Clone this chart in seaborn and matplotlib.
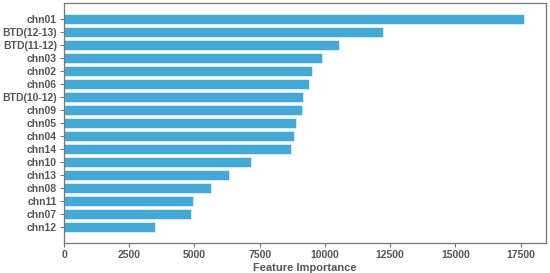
import matplotlib
matplotlib.use("Agg")
import matplotlib.pyplot as plt
import seaborn as sns
import pandas as pd

features = ["chn01", "BTD(12-13)", "BTD(11-12)", "chn03", "chn02", "chn06",
            "BTD(10-12)", "chn09", "chn05", "chn04", "chn14", "chn10",
            "chn13", "chn08", "chn11", "chn07", "chn12"]
importance = [17625, 12230, 10550, 9900, 9490, 9375,
              9170, 9135, 8890, 8800, 8685, 7150,
              6320, 5640, 4940, 4870, 3505]
x_ticks = [0, 2500, 5000, 7500, 10000, 12500, 15000, 17500]

sns.set_theme(style="ticks")
plt.rcParams['font.family'] = ['Liberation Sans', 'DejaVu Sans']

df = pd.DataFrame({"feature": features, "importance": importance})

fig = plt.figure(figsize=(5.5, 2.73), dpi=100)
ax = fig.add_axes([64/550, 1 - 243/273, (546-64)/550, (243-3)/273])
sns.barplot(data=df, x="importance", y="feature", orient="h", ax=ax,
            color="#44aad5", saturation=1, width=0.8,
            edgecolor="#d8eef8", linewidth=0.6)
ax.set_xlim(0, max(importance) * 1.048)
ax.set_ylim(len(features) - 1 + 0.4 + 0.84, -0.4 - 0.84)
ax.set_xticks(x_ticks)
ax.set_xticklabels([str(t) for t in x_ticks])
ax.set_xlabel("Feature Importance", fontsize=8, fontweight="bold", color="#555555", labelpad=2)
ax.set_ylabel("")
for lbl in ax.get_yticklabels() + ax.get_xticklabels():
    lbl.set_fontweight("bold")
    lbl.set_color("#555555")
    lbl.set_fontsize(7.5)
for s in ax.spines.values():
    s.set_visible(True)
    s.set_color("#777777")
    s.set_linewidth(0.9)
ax.tick_params(axis="both", length=3, width=0.8, color="#777777", pad=2)
fig.savefig("out.png", dpi=100)
